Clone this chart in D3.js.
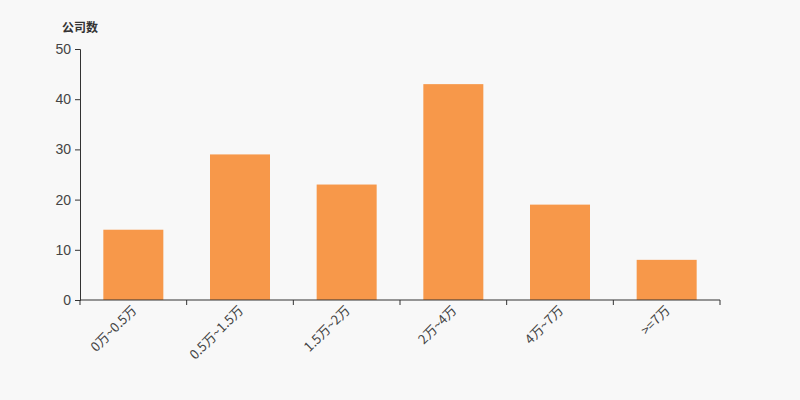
<!DOCTYPE html>
<html>
<head>
<meta charset="utf-8">
<script src="https://cdn.jsdelivr.net/npm/d3@7"></script>
<style>
  body { margin: 0; background: #f8f8f8; }
  svg { display: block; font-family: "Noto Sans CJK SC", "DejaVu Sans", sans-serif; }
</style>
</head>
<body>
<div id="chart"></div>
<script>
categories = ["0万~0.5万", "0.5万~1.5万", "1.5万~2万", "2万~4万", "4万~7万", ">=7万"]
counts = [14, 29, 23, 43, 19, 8]
yTicks = [0, 10, 20, 30, 40, 50]
yTitle = "公司数"

var width = 800, height = 400
var plotLeft = 80, plotRight = 720, plotTop = 49, plotBottom = 300

var svg = d3.select("#chart").append("svg")
  .attr("width", width)
  .attr("height", height)

svg.append("rect")
  .attr("width", width)
  .attr("height", height)
  .attr("fill", "#f8f8f8")

var x = d3.scaleBand()
  .domain(categories)
  .range([plotLeft, plotRight])

var y = d3.scaleLinear()
  .domain([0, 50])
  .range([plotBottom, plotTop])

var barW = x.bandwidth() * 0.5625

svg.selectAll("rect.bar")
  .data(counts)
  .enter()
  .append("rect")
  .attr("class", "bar")
  .attr("x", function(d, i) { return x(categories[i]) + (x.bandwidth() - barW) / 2 })
  .attr("y", function(d) { return y(d) })
  .attr("width", barW)
  .attr("height", function(d) { return y(0) - y(d) })
  .attr("fill", "#f7984a")

// y axis
var yAxis = svg.append("g")
  .attr("transform", "translate(" + plotLeft + ",0)")
  .call(d3.axisLeft(y).tickValues(yTicks).tickSize(5).tickPadding(4))
yAxis.select(".domain").attr("stroke", "#333")
yAxis.selectAll(".tick line").attr("stroke", "#333")
yAxis.selectAll("text")
  .attr("fill", "#444")
  .style("font-size", "14px")
  .style("font-family", "Liberation Sans, Arial, sans-serif")

// x axis with ticks at band edges
var xAxis = svg.append("g")
  .attr("transform", "translate(0," + plotBottom + ")")
xAxis.append("line")
  .attr("x1", plotLeft).attr("x2", plotRight)
  .attr("stroke", "#333")
var edges = categories.map(function(c) { return x(c) }).concat([plotRight])
xAxis.selectAll("line.edge")
  .data(edges)
  .enter()
  .append("line")
  .attr("class", "edge")
  .attr("x1", function(d) { return d }).attr("x2", function(d) { return d })
  .attr("y1", 0).attr("y2", 5)
  .attr("stroke", "#333")

xAxis.selectAll("text")
  .data(categories)
  .enter()
  .append("text")
  .attr("transform", function(d) {
    return "translate(" + (x(d) + x.bandwidth() / 2 + 1) + ",8) rotate(-45)"
  })
  .attr("text-anchor", "end")
  .attr("dy", "0.35em")
  .attr("fill", "#444")
  .style("font-size", "13px")
  .text(function(d) { return d })

svg.append("text")
  .attr("x", 62)
  .attr("y", 32)
  .attr("fill", "#333")
  .style("font-size", "12px")
  .style("font-weight", "bold")
  .text(yTitle)
</script>
</body>
</html>
